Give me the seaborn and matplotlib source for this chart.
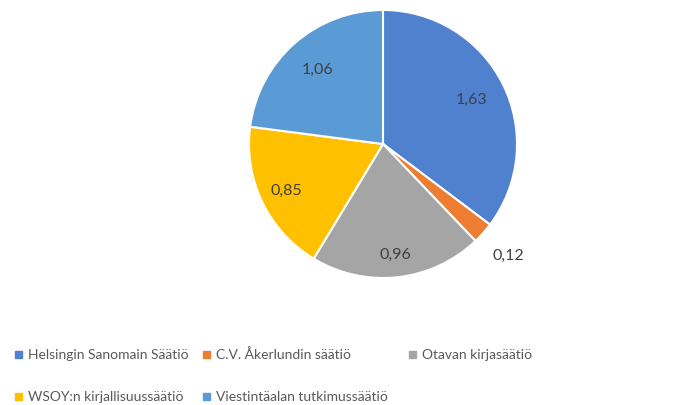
import numpy as np
import matplotlib
matplotlib.use("Agg")
import matplotlib.pyplot as plt
import seaborn as sns
from matplotlib.patches import Rectangle

categories = ["Helsingin Sanomain Säätiö", "C.V. Åkerlundin säätiö", "Otavan kirjasäätiö",
              "WSOY:n kirjallisuussäätiö", "Viestintäalan tutkimussäätiö"]
values = [1.63, 0.12, 0.96, 0.85, 1.06]
value_labels = ["1,63", "0,12", "0,96", "0,85", "1,06"]

sns.set_theme(style="white")
plt.rcParams['font.family'] = ['Lato', 'DejaVu Sans']
colors = ["#4f81cf", "#ed7d31", "#a5a5a5", "#ffc000", "#5b9bd5"]

W, H = 681, 405
fig = plt.figure(figsize=(W/100, H/100), dpi=100)
cx, cy, R = 383, 144, 134
ax = fig.add_axes([(cx-R)/W, (H-cy-R)/H, 2*R/W, 2*R/H])
wedges, _ = ax.pie(values, colors=colors, startangle=90, counterclock=False,
                   wedgeprops=dict(edgecolor="white", linewidth=1.5))
ax.set_xlim(-1, 1); ax.set_ylim(-1, 1)
ax.set_aspect("equal"); ax.axis("off")

dist = [0.74, 1.25, 0.83, 0.80, 0.74]
for w, lab, d in zip(wedges, value_labels, dist):
    ang = np.deg2rad((w.theta1 + w.theta2) / 2)
    ax.text(d*np.cos(ang), d*np.sin(ang), lab, ha="center", va="center",
            fontsize=11.5, color="#404040", clip_on=False)

# legend
pos = [(18, 355), (206, 355), (412, 355), (18, 397), (206, 397)]
for (x, y), c, name in zip(pos, colors, categories):
    fig.patches.append(Rectangle(((x-3)/W, (H-y-3)/H), 7/W, 7/H, transform=fig.transFigure,
                                 color=c, figure=fig))
    fig.text((x+10)/W, (H-y)/H, name, ha="left", va="center", fontsize=10, color="#595959")

fig.savefig("out.png", dpi=100)
